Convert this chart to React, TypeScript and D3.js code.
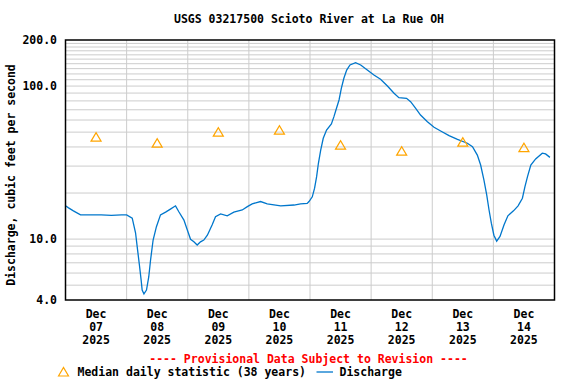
import React from 'react';
import * as d3 from 'd3';

const title = 'USGS 03217500 Scioto River at La Rue OH';
const yLabel = 'Discharge, cubic feet per second';
const dayLabels = ['07', '08', '09', '10', '11', '12', '13', '14'];
const yTicks = [4, 10, 100, 200];

// median daily statistic, one per day at noon
const medianValues = [46.4, 42.4, 50.0, 51.5, 41.1, 37.6, 43.0, 39.6];

// discharge, hours since Dec 07 00:00
const dischargeHours = [
	0, 1.2, 3.1, 5.9, 10, 14, 18, 22, 24, 26.2, 27.5, 28.3, 29.1, 29.7, 30.1, 30.8,
	31.8, 32.7, 33.4, 34.4, 35.7, 37.3, 39.3, 41.2, 43.2, 44.5, 46.5, 47.8, 49.1,
	50.4, 51.7, 53.0, 54.3, 55.7, 57.6, 58.9, 60.9, 63.5, 66.1, 69.4, 71.4, 73.3,
	76.6, 79.2, 84.5, 89.7, 92.3, 94.9, 95.6, 96.9, 97.8, 98.6, 99.3, 100.2, 101.2,
	102.5, 104.4, 105.4, 106.4, 107.4, 108.3, 109.3, 110.4, 111.7, 113.9, 115.9,
	118.5, 121.1, 123.7, 126.4, 129.0, 130.9, 133.9, 135.5, 137.5, 139.4, 142.1,
	144.7, 147.3, 150.6, 153.9, 157.8, 159.8, 161.7, 163.0, 164.3, 165.4, 166.3,
	167.2, 168.2, 169.3, 170.6, 172.2, 173.7, 175.9, 177.7, 179.4, 180.4, 181.4,
	182.7, 184.6, 187.2, 188.5, 190.2,
];
const dischargeValues = [
	16.5, 16.0, 15.3, 14.4, 14.4, 14.4, 14.3, 14.4, 14.4, 13.7, 11.0, 8.5, 6.6, 5.4,
	4.65, 4.38, 4.65, 5.68, 7.3, 9.86, 12.05, 14.4, 15.0, 15.7, 16.5, 15.1, 13.3,
	11.5, 9.97, 9.6, 9.15, 9.6, 9.86, 10.6, 12.4, 14.0, 14.6, 14.2, 15.0, 15.5, 16.3,
	17.0, 17.6, 17.0, 16.5, 16.7, 17.0, 17.1, 17.6, 18.9, 21.5, 25.6, 31.3, 38.2,
	45.6, 51.6, 56.5, 63.1, 71.6, 81.1, 96.7, 112.4, 127.3, 137.3, 142.1, 137.3,
	127.3, 118.1, 110.7, 100.1, 89.7, 83.9, 83.2, 79.1, 71.6, 64.7, 58.5, 53.8,
	50.9, 47.4, 44.9, 42.3, 40.2, 35.4, 30.5, 24.3, 19.4, 15.5, 12.7, 10.6, 9.7,
	10.4, 12.4, 14.2, 15.3, 16.5, 18.5, 22.0, 25.6, 30.5, 33.4, 36.4, 36.0, 34.2,
];

const W = 576;
const H = 384;
const left = 65.5;
const right = 554.5;
const top = 40;
const bottom = 300;
const font = '"DejaVu Sans Mono", monospace';
const blue = '#0077cc';
const orange = '#ffa500';

export default function App() {
	const x = d3.scaleLinear().domain([0, 192]).range([left, right]);
	const y = d3.scaleLog().domain([4, 200]).range([bottom, top]);

	const gridY: number[] = [];
	[1, 10, 100].forEach((dec) => {
		for (let m = 1; m <= 9; m++) {
			const v = m * dec;
			if (v > 4 && v < 200) gridY.push(v);
		}
	});
	for (let v = 110; v < 200; v += 10) gridY.push(v);
	const gridX = d3.range(1, 8).map((d) => d * 24);

	const line = d3
		.line<number>()
		.x((_, i) => x(dischargeHours[i]))
		.y((d) => y(d));

	const tri = (cx: number, cy: number) =>
		`M${cx - 5},${cy + 4}L${cx},${cy - 4.5}L${cx + 5},${cy + 4}Z`;

	return (
		<svg
			width={W}
			height={H}
			style={{ position: 'absolute', left: 0, top: 0, background: '#fff' }}
		>
			<text
				x={309}
				y={23}
				textAnchor="middle"
				fontFamily={font}
				fontWeight="bold"
				fontSize={11.5}
			>
				{title}
			</text>

			<g stroke="#cccccc" strokeWidth={1}>
				{gridY.map((v) => (
					<line key={'gy' + v} x1={left} x2={right} y1={y(v)} y2={y(v)} />
				))}
				{gridX.map((h) => (
					<line key={'gx' + h} x1={x(h)} x2={x(h)} y1={top} y2={bottom} />
				))}
			</g>

			<path
				d={line(dischargeValues) || ''}
				fill="none"
				stroke={blue}
				strokeWidth={1.3}
			/>

			{medianValues.map((v, i) => (
				<path
					key={'m' + i}
					d={tri(x(i * 24 + 12), y(v))}
					fill="none"
					stroke={orange}
					strokeWidth={1.2}
				/>
			))}

			<rect
				x={left}
				y={top}
				width={right - left}
				height={bottom - top}
				fill="none"
				stroke="#000"
				strokeWidth={1.5}
			/>

			<g fontFamily={font} fontWeight="bold" fontSize={11.5} textAnchor="end">
				{yTicks.map((v) => (
					<text key={'yt' + v} x={57} y={y(v) + 4}>
						{d3.format('.1f')(v)}
					</text>
				))}
			</g>

			<text
				transform={`translate(15,175) rotate(-90)`}
				textAnchor="middle"
				fontFamily={font}
				fontWeight="bold"
				fontSize={11.5}
			>
				{yLabel}
			</text>

			<g fontFamily={font} fontWeight="bold" fontSize={11.5} textAnchor="middle">
				{dayLabels.map((d, i) => {
					const cx = x(i * 24 + 12);
					return (
						<g key={'d' + d}>
							<text x={cx} y={318}>Dec</text>
							<text x={cx} y={331}>{d}</text>
							<text x={cx} y={344}>2025</text>
						</g>
					);
				})}
			</g>

			<text
				x={308.5}
				y={363}
				textAnchor="middle"
				fontFamily={font}
				fontWeight="bold"
				fontSize={11.5}
				fill="#ff0000"
			>
				---- Provisional Data Subject to Revision ----
			</text>

			<g fontFamily={font} fontWeight="bold" fontSize={11.5}>
				<path d={tri(63.5, 372)} fill="none" stroke={orange} strokeWidth={1.2} />
				<text x={77.5} y={376}>
					Median daily statistic (38 years)
				</text>
				<line x1={316.5} x2={333} y1={372} y2={372} stroke={blue} strokeWidth={1.3} />
				<text x={339.5} y={376}>
					Discharge
				</text>
			</g>
		</svg>
	);
}
